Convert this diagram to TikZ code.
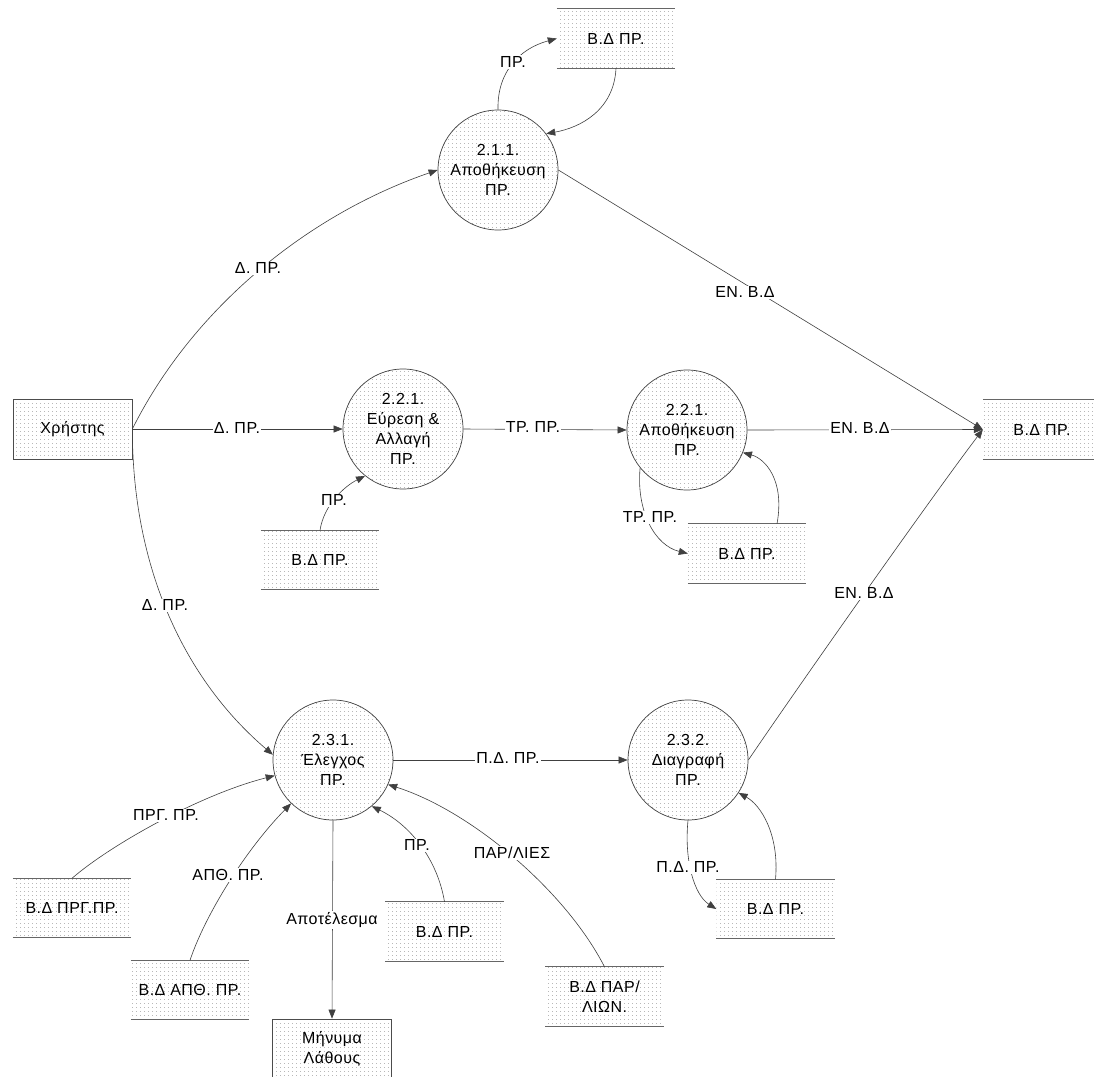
\documentclass[tikz,border=0pt]{standalone}
\usepackage{fontspec}
\setmainfont[LetterSpace=3]{Liberation Sans}
\usetikzlibrary{arrows.meta,patterns,calc}
\pgfdeclarepatternformonly{mydots}{\pgfqpoint{-0.5pt}{-0.5pt}}{\pgfqpoint{4.5pt}{4.5pt}}{\pgfqpoint{4pt}{4pt}}{\pgfpathrectangle{\pgfqpoint{0pt}{0pt}}{\pgfqpoint{1pt}{1pt}}\pgfusepath{fill}}
\tikzset{
  dfdfont/.style={font=\fontsize{16}{20}\selectfont},
  proc/.style={circle, draw=black!75, line width=0.7pt, minimum size=120pt, inner sep=0pt,
    align=center, pattern=mydots, pattern color=black!28, dfdfont},
  ext/.style={rectangle, draw=black!70, line width=0.7pt, minimum width=119pt, minimum height=60pt,
    inner sep=0pt, align=center, pattern=mydots, pattern color=black!28, dfdfont},
  storeline/.style={draw=black!60, line width=1.3pt},
  store/.style={rectangle, minimum width=118pt, minimum height=59pt, inner sep=0pt, align=center,
    pattern=mydots, pattern color=black!28, dfdfont,
    append after command={(\tikzlastnode.north west) edge[storeline] (\tikzlastnode.north east)
      (\tikzlastnode.south west) edge[storeline] (\tikzlastnode.south east)}},
  flow/.style={draw=black!75, line width=0.6pt, -{Triangle[length=9pt,width=7pt]}},
  lbl/.style={fill=white, inner sep=1pt, dfdfont},
}
\begin{document}
\begin{tikzpicture}[x=1pt,y=-1pt]
\useasboundingbox (0,0) rectangle (1094,1076);
\fill[white] (0,0) rectangle (1094,1076);

% processes
\node[proc] (p211) at (498,170) {2.1.1.\\Αποθήκευση\\ΠΡ.};
\node[proc] (p221a) at (403,429) {2.2.1.\\Εύρεση \&\\Αλλαγή\\ΠΡ.};
\node[proc] (p221b) at (687,430) {2.2.1.\\Αποθήκευση\\ΠΡ.};
\node[proc] (p231) at (333,760) {2.3.1.\\Έλεγχος\\ΠΡ.};
\node[proc] (p232) at (688,760) {2.3.2.\\Διαγραφή\\ΠΡ.};

% externals
\node[ext] (user) at (72.5,429) {Χρήστης};
\node[ext] (msg) at (332,1049) {Μήνυμα\\Λάθους};

% stores
\node[store] (stop) at (616,38.5) {Β.Δ ΠΡ.};
\node[store] (s221a) at (320,560) {Β.Δ ΠΡ.};
\node[store] (s221b) at (747,553.5) {Β.Δ ΠΡ.};
\node[store] (sright) at (1042,429.5) {Β.Δ ΠΡ.};
\node[store] (sprg) at (72,908) {Β.Δ ΠΡΓ.ΠΡ.};
\node[store] (sapth) at (190,990) {Β.Δ ΑΠΘ. ΠΡ.};
\node[store] (spr) at (444.5,931.5) {Β.Δ ΠΡ.};
\node[store] (spar) at (604.5,996.5) {Β.Δ ΠΑΡ/\\ΛΙΩΝ.};
\node[store] (s232) at (775.5,909) {Β.Δ ΠΡ.};

% flows
\draw[flow] (user.east) .. controls +(60,-120) and +(-131,45) .. (p211.west);
\draw[flow] (user.east) -- (p221a.west);
\draw[flow] (user.east) .. controls +(0,140) and +(-88,-75) .. (p231.175);
\draw[flow] (p211.north) .. controls +(-1,-38) and +(-37,10) .. (stop.west);
\draw[flow] (stop.south) .. controls +(-2,42) and +(34,-6) .. (p211.37);
\draw[flow] (p211.east) -- (sright.west);
\draw[flow] (s221a.north) .. controls +(4,-26) and +(-20,10) .. (p221a.231);
\draw[flow] (p221a.east) -- (p221b.west);
\draw[flow] (p221b.east) -- (sright.west);
\draw[flow] (p221b.219) .. controls +(-4,43) and +(-33,-8) .. (s221b.west);
\draw[flow] ($(s221b.north)+(30,0)$) .. controls +(8,-44) and +(22,6) .. (p221b.-22);
\draw[flow] (p232.east) .. controls +(53,-78) and +(-53,70) .. (sright.west);
\draw[flow] (p231.east) -- (p232.west);
\draw[flow] (sprg.north) .. controls +(38,-33) and +(-75,19) .. (p231.195);
\draw[flow] (sapth.north) .. controls +(15,-45) and +(-46,47) .. (p231.226);
\draw[flow] (p231.south) -- (msg.north);
\draw[flow] (spr.north) .. controls +(-7,-42) and +(39,19) .. (p231.310);
\draw[flow] (spar.north) .. controls +(-39.5,-77) and +(82,26) .. (p231.336);
\draw[flow] (p232.south) .. controls +(-4,40) and +(-22,-14) .. (s232.west);
\draw[flow] (s232.north) .. controls +(4,-45) and +(22,12) .. (p232.327);

% labels
\node[lbl] (l1) at (258,268) {Δ. ΠΡ.};
\node[lbl] (l2) at (237,428) {Δ. ΠΡ.};
\node[lbl] (l3) at (165,605) {Δ. ΠΡ.};
\node[lbl] (l4) at (513,62) {ΠΡ.};
\node[lbl] (l5) at (745,292) {ΕΝ. Β.Δ};
\node[lbl] (l6) at (334,500) {ΠΡ.};
\node[lbl] (l7) at (533,427) {ΤΡ. ΠΡ.};
\node[lbl] (l8) at (860,428) {ΕΝ. Β.Δ};
\node[lbl] (l9) at (650,517) {ΤΡ. ΠΡ.};
\node[lbl] (l10) at (864,593) {ΕΝ. Β.Δ};
\node[lbl] (l11) at (508,758) {Π.Δ. ΠΡ.};
\node[lbl] (l12) at (166,815) {ΠΡΓ. ΠΡ.};
\node[lbl] (l13) at (228,875) {ΑΠΘ. ΠΡ.};
\node[lbl] (l14) at (332,920) {Αποτέλεσμα};
\node[lbl] (l15) at (417,845) {ΠΡ.};
\node[lbl] (l16) at (512,853) {ΠΑΡ/ΛΙΕΣ};
\node[lbl] (l17) at (688,867) {Π.Δ. ΠΡ.};
\end{tikzpicture}
\end{document}
